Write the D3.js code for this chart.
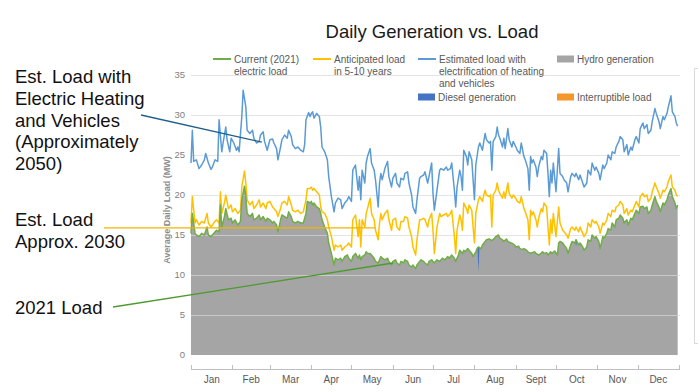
<!DOCTYPE html>
<html><head><meta charset="utf-8">
<script src="https://cdn.jsdelivr.net/npm/d3@7"></script>
<style>
body{margin:0;background:#fff;}
svg{display:block;font-family:Arial,"Liberation Sans",sans-serif;}
</style>
</head><body>
<svg id="chart" width="698" height="392"></svg>
<script>
// ---------- data ----------
const monthLabels = ["Jan","Feb","Mar","Apr","May","Jun","Jul","Aug","Sept","Oct","Nov","Dec"];
const monthStarts = [0,31,59,90,120,151,181,212,243,273,304,334,365];
const yTicks = [0,5,10,15,20,25,30,35];

// Estimated load with electrification of heating and vehicles (day of year, MW)
const days2050 = [0,1,2,4,6,8,10,11,13,15,16,18,20,21,23,24,26,27,29,30,32,34,35,36,38,39,41,42,44,46,47,49,51,52,54,55,57,59,61,62,64,65,67,68,70,72,73,75,76,78,80,82,84,85,86,88,89,90,91,92,94,96,97,98,100,102,103,105,107,108,110,112,113,115,117,118,120,121,123,125,126,127,128,130,131,132,134,135,137,138,140,141,142,143,145,147,148,150,151,153,154,156,157,159,160,162,163,165,166,168,169,171,172,174,175,177,178,180,181,182,184,186,187,189,191,192,194,195,197,198,199,201,202,203,204,206,207,208,210,211,212,213,215,216,218,219,220,221,223,224,225,226,228,229,230,231,233,234,235,237,238,240,241,243,244,246,247,249,250,252,253,254,255,256,258,259,260,262,263,264,266,267,268,269,270,271,273,275,276,278,279,281,282,284,285,287,288,290,291,293,294,296,297,299,300,302,303,305,306,308,309,311,312,314,315,317,318,320,321,323,324,326,327,329,330,332,333,335,336,338,339,341,342,344,345,347,348,350,351,353,354,356,357,359,360,362,363,364];
const load2050 = [24.0,28.1,24.2,24.4,23.3,23.75,24.4,25.2,24.0,23.2,23.5,24.4,24.2,29.4,25.4,26.5,28.5,26.9,25.4,27.1,26.5,25.6,26.0,25.4,29.8,33.1,31.0,28.1,27.7,28.1,27.1,26.5,26.7,27.5,27.9,26.7,25.6,26.9,27.0,26.5,25.8,24.4,26.0,26.9,27.5,27.1,28.1,27.3,26.3,25.8,26.0,25.6,25.4,26.3,29.4,30.3,29.8,30.2,30.4,29.6,30.2,29.8,28.5,26.0,25.4,24.4,22.3,19.8,17.9,19.0,19.6,19.4,18.3,19.0,19.4,19.8,19.2,23.1,23.75,20.6,22.3,19.4,23.1,21.5,24.0,24.8,25.8,24.0,23.1,21.9,18.5,21.5,22.7,21.9,23.3,24.2,22.3,21.0,22.1,22.7,21.5,21.0,22.1,21.9,22.7,22.9,21.5,20.0,18.5,17.7,19.4,22.1,22.3,22.5,22.9,21.5,22.3,24.0,20.2,18.1,20.6,23.1,23.3,23.1,23.5,23.1,23.3,24.0,20.6,18.5,21.0,23.1,22.3,20.6,25.6,24.8,23.75,25.4,24.4,21.9,19.4,23.75,26.0,26.5,25.6,26.7,27.7,26.9,26.5,26.7,23.1,26.7,27.3,28.5,27.5,27.1,26.0,27.1,25.8,28.3,26.9,26.0,26.7,26.0,25.6,25.2,26.5,24.8,24.4,23.3,20.6,24.8,24.0,24.4,23.5,22.3,23.5,24.8,24.4,25.6,25.2,22.7,19.8,23.1,21.5,24.0,20.4,25.8,22.7,22.3,21.9,21.5,20.4,22.3,22.7,22.3,22.7,21.9,22.5,21.5,21.0,21.5,23.1,22.5,24.0,23.1,23.5,22.7,21.9,23.75,23.3,24.0,25.0,24.4,25.4,25.2,26.0,26.7,27.3,26.9,25.4,26.3,25.0,26.0,25.6,26.9,27.3,26.5,28.3,29.0,28.3,28.8,27.7,28.1,29.2,30.8,30.2,29.2,28.3,29.8,29.4,30.2,31.0,32.4,30.4,29.8,29.0,28.6];

// Anticipated load in 5-10 years
const days2030 = [0,1,3,4,6,8,10,12,13,15,17,19,21,22,23,25,26,28,30,31,33,35,37,38,40,41,42,44,46,47,49,51,52,54,56,57,59,61,62,64,65,67,68,70,72,73,75,76,78,80,82,84,86,87,89,90,91,92,94,96,97,98,100,102,103,105,107,108,110,112,113,115,117,118,120,121,123,125,126,127,128,130,131,132,134,135,137,138,140,141,142,143,145,147,148,150,151,153,154,156,157,159,160,162,163,165,166,168,169,171,172,174,175,177,178,180,181,182,184,186,187,189,191,192,194,195,197,198,199,201,202,203,204,206,207,208,210,211,212,213,215,216,218,219,220,221,223,224,225,226,228,229,230,231,233,234,235,237,238,240,241,243,244,246,247,249,250,252,253,254,255,256,258,259,260,262,263,264,266,267,268,269,270,271,273,275,276,278,279,281,282,284,285,287,288,290,291,293,294,296,297,299,300,302,303,305,306,308,309,311,312,314,315,317,318,320,321,323,324,326,327,329,330,332,333,335,336,338,339,341,342,344,345,347,348,350,351,353,354,356,357,359,360,362,363,364];
const load2030 = [16.5,19.8,16.5,16.9,16.25,16.7,16.5,17.7,16.5,16.0,16.5,16.9,16.5,20.4,17.7,19.0,20.0,18.3,18.75,17.9,18.3,17.7,18.1,21.0,23.0,21.5,19.4,18.75,19.2,18.3,18.75,19.4,18.5,19.0,18.3,19.0,19.2,18.5,18.3,17.9,17.3,18.3,19.0,19.2,18.75,19.8,18.75,18.1,17.9,18.1,17.7,17.9,19.4,20.8,20.8,21.0,20.6,20.8,20.4,20.0,18.5,17.9,17.7,16.9,16.0,14.8,13.1,13.75,13.5,13.75,13.1,13.5,13.75,14.0,13.5,16.9,17.5,14.8,16.9,13.5,16.9,16.0,17.7,18.3,19.6,17.7,16.9,15.6,14.4,16.5,17.7,16.9,17.7,18.1,16.9,15.6,16.9,17.1,16.0,15.6,16.7,16.7,17.3,17.1,16.0,14.8,13.5,12.5,14.4,16.9,16.9,17.1,16.9,16.0,16.9,17.7,15.6,12.7,16.0,17.7,17.3,17.5,17.7,17.3,17.7,18.1,14.8,12.7,15.6,17.5,16.9,15.6,19.0,18.3,17.7,18.75,18.1,16.0,14.0,17.7,19.4,19.8,19.2,20.0,20.6,20.0,19.8,20.0,16.0,20.0,20.6,21.5,20.6,20.2,19.6,20.4,19.6,21.5,20.2,19.6,20.0,19.6,19.2,19.0,19.8,18.3,17.9,16.9,14.4,18.1,17.5,17.9,16.9,16.0,17.1,18.3,17.9,19.0,18.5,16.0,13.75,16.9,15.2,17.7,14.8,18.5,16.5,15.6,15.4,15.0,14.6,15.8,16.0,15.6,16.0,15.4,16.0,15.2,14.8,15.4,16.5,16.0,16.9,16.5,16.7,16.0,15.2,16.5,16.25,16.9,17.7,17.3,18.1,17.9,18.5,18.75,19.2,18.75,17.7,18.3,17.5,18.1,17.9,18.75,19.2,18.5,19.8,20.2,19.8,20.0,19.2,19.6,20.4,21.5,21.0,20.2,19.6,20.6,20.4,21.0,21.7,22.5,21.0,20.6,20.0,19.8];

// Current (2021) electric load
const days2021 = [0,1,3,4,6,8,10,12,13,15,17,19,21,22,23,25,26,28,30,31,33,35,37,38,40,41,42,44,46,47,49,51,52,54,56,57,59,61,62,64,65,67,68,70,72,73,75,76,78,80,82,84,86,87,89,90,91,92,94,96,97,98,100,102,103,105,107,108,110,112,113,115,117,118,120,121,123,125,126,127,128,130,131,132,134,135,137,138,140,141,142,143,145,147,148,150,151,153,154,156,157,159,160,162,163,165,166,168,169,171,172,174,175,177,178,180,181,182,184,186,188,190,192,193,195,197,198,200,201,203,204,205,207,208,210,211,213,214,215,217,218,220,221,223,225,227,228,230,231,233,234,236,237,239,240,242,243,245,246,248,249,251,252,254,255,257,258,260,261,263,264,266,267,269,270,272,274,275,276,278,279,281,282,284,285,287,288,290,291,293,294,296,297,299,300,302,303,305,306,308,309,311,312,314,315,317,318,320,321,323,324,326,327,329,330,332,333,335,336,338,339,341,342,344,345,347,348,350,351,353,354,356,357,359,360,362,363,364];
const load2021 = [15.2,17.7,15.2,15.0,14.8,15.2,15.0,16.0,15.0,14.8,15.2,15.6,15.4,18.75,16.0,17.3,18.3,16.9,17.1,16.5,16.9,16.25,16.7,19.4,21.1,19.8,17.7,17.3,17.7,16.9,17.1,17.5,16.9,17.3,16.7,17.1,16.9,16.5,16.7,16.25,15.4,16.9,17.5,17.3,17.1,17.9,17.3,16.7,16.5,16.7,16.5,16.5,17.7,19.2,19.0,19.2,18.75,19.0,18.5,18.3,17.7,16.9,16.0,15.2,14.0,12.7,11.25,12.1,11.9,12.1,11.7,12.3,12.5,12.1,11.7,12.3,12.7,12.1,12.5,11.9,12.3,12.5,12.9,12.7,12.7,12.5,12.1,11.7,11.5,11.9,12.3,12.1,11.9,12.1,11.7,11.25,11.7,11.9,11.5,11.25,11.7,11.5,11.9,11.7,11.25,11.0,11.25,10.8,11.25,11.7,11.9,11.7,11.5,11.25,11.7,11.9,11.7,11.5,11.9,11.7,12.1,11.9,12.3,12.1,12.5,12.1,11.7,12.5,13.1,12.7,13.1,12.9,13.3,13.1,12.7,12.3,12.9,13.3,13.5,13.3,13.75,14.2,14.4,14.5,14.3,14.6,14.8,15.0,14.6,14.4,14.2,14.5,14.2,14.0,14.0,13.75,13.5,13.6,13.3,13.2,13.3,13.1,12.9,12.7,12.8,12.9,12.7,12.5,12.6,12.9,12.7,12.8,12.5,12.9,12.7,13.0,12.5,14.0,14.2,14.0,13.75,13.3,12.7,13.75,14.2,14.0,14.4,13.75,14.0,13.5,13.1,13.5,14.4,14.2,15.0,14.6,14.8,14.2,13.3,14.8,14.6,15.2,15.8,15.6,16.5,16.0,16.9,17.1,17.5,17.1,16.5,16.9,16.25,17.1,16.9,17.7,18.1,17.7,18.5,18.6,18.3,18.5,17.7,18.1,18.75,19.8,19.2,18.5,17.9,19.0,18.75,19.4,20.0,20.8,19.8,19.0,18.3,18.75];

// Diesel generation events (day, load at that day, hydro output that day)
const dieselDays = [215, 288];
const dieselLoad = [13.5, 14.4];
const dieselHydro = [10.4, 13.6];

// ---------- drawing ----------
const svg = d3.select("#chart");
const x = d3.scaleLinear().domain([0,365]).range([191,679]);
const y = d3.scaleLinear().domain([0,35]).range([355,75]);

const C = {green:"#70ad47", yellow:"#ffc000", blue:"#5b9bd5", gray:"#a5a5a5", diesel:"#4472c4", orange:"#f5962a"};

// title
svg.append("text").attr("x",432).attr("y",38).attr("text-anchor","middle")
  .attr("font-size",18.5).attr("fill","#1a1a1a").text("Daily Generation vs. Load");

const s2021 = days2021.map((d,i)=>({d, v:load2021[i]}));
const s2030 = days2030.map((d,i)=>({d, v:load2030[i]}));
const s2050 = days2050.map((d,i)=>({d, v:load2050[i]}));

// hydro area
svg.append("path").datum(s2021)
  .attr("d", d3.area().x(p=>x(p.d)).y0(y(0)).y1(p=>y(p.v)))
  .attr("fill", C.gray);

// diesel wedges
dieselDays.forEach((d,i)=>{
  const pts = [{d:d-0.8, lo:dieselLoad[i], hi:dieselLoad[i]},
               {d:d, lo:dieselHydro[i], hi:dieselLoad[i]},
               {d:d+0.8, lo:dieselLoad[i], hi:dieselLoad[i]}];
  svg.append("path").datum(pts)
    .attr("d", d3.area().x(p=>x(p.d)).y0(p=>y(p.lo)).y1(p=>y(p.hi)))
    .attr("fill", C.diesel);
});

// gridlines
svg.append("g").selectAll("line").data(yTicks.filter(t=>t>0)).join("line")
  .attr("x1",191).attr("x2",680).attr("y1",t=>y(t)+0.5).attr("y2",t=>y(t)+0.5)
  .attr("stroke","#d9d9d9").attr("stroke-opacity",0.7).attr("stroke-width",1);

// y labels
svg.append("g").selectAll("text").data(yTicks).join("text")
  .attr("x",185).attr("y",t=>y(t)).attr("dy","0.35em").attr("text-anchor","end")
  .attr("font-size",9.5).attr("fill","#7f7f7f").text(t=>t);

svg.append("text").attr("transform","translate(170,210) rotate(-90)")
  .attr("text-anchor","middle").attr("font-size",9).attr("font-weight","bold")
  .attr("fill","#8c8c8c").text("Average Daily Load (MW)");

// x axis
const xAxis = svg.append("g");
xAxis.append("line").attr("x1",191).attr("x2",680).attr("y1",369.5).attr("y2",369.5)
  .attr("stroke","#bfbfbf");
xAxis.selectAll("line.t").data(monthStarts).join("line").attr("class","t")
  .attr("x1",d=>Math.round(x(d))+0.5).attr("x2",d=>Math.round(x(d))+0.5)
  .attr("y1",365).attr("y2",370).attr("stroke","#bfbfbf");
xAxis.selectAll("text").data(monthLabels).join("text")
  .attr("x",(m,i)=>x((monthStarts[i]+monthStarts[i+1])/2))
  .attr("y",379).attr("dy","0.35em").attr("text-anchor","middle")
  .attr("font-size",10).attr("fill","#595959").text(m=>m);

// lines
const line = d3.line().x(p=>x(p.d)).y(p=>y(p.v));
svg.append("path").datum(s2050).attr("d",line).attr("fill","none")
  .attr("stroke",C.blue).attr("stroke-width",1.5).attr("stroke-linejoin","round");
svg.append("path").datum(s2030).attr("d",line).attr("fill","none")
  .attr("stroke",C.yellow).attr("stroke-width",1.5).attr("stroke-linejoin","round");
svg.append("path").datum(s2021).attr("d",line).attr("fill","none")
  .attr("stroke",C.green).attr("stroke-width",1.5).attr("stroke-linejoin","round");

// legend
const lg = svg.append("g").attr("font-size",10).attr("fill","#595959");
function lineItem(x0, y0, color, lines){
  lg.append("line").attr("x1",x0).attr("x2",x0+18).attr("y1",y0).attr("y2",y0)
    .attr("stroke",color).attr("stroke-width",2);
  lines.forEach((t,i)=>lg.append("text").attr("x",x0+21).attr("y",y0+i*12).attr("dy","0.35em").text(t));
}
function boxItem(x0, y0, color, label){
  lg.append("rect").attr("x",x0).attr("y",y0-3.5).attr("width",17).attr("height",7).attr("fill",color);
  lg.append("text").attr("x",x0+20).attr("y",y0).attr("dy","0.35em").text(label);
}
lineItem(213, 59, C.green, ["Current (2021)","electric load"]);
lineItem(313, 59, C.yellow, ["Anticipated load","in 5-10 years"]);
lineItem(418, 59, C.blue, ["Estimated load with","electrification of heating","and vehicles"]);
boxItem(557, 59, C.gray, "Hydro generation");
boxItem(418, 97, C.diesel, "Diesel generation");
boxItem(557, 97, C.orange, "Interruptible load");

// right frame edge
svg.append("path").attr("d","M698,68.5H694.5V343.5H698").attr("fill","none").attr("stroke","#d9d9d9");

// annotations (pointer endpoints in data units)
const annoBlue = [[-37.4,30.0],[53,26.6]];
const annoYellow = [[-65.1,15.9],[137.6,15.9]];
const annoGreen = [[-58.3,6.0],[151.1,11.5]];
[[annoBlue,"#1f5f8b"],[annoYellow,"#f0b400"],[annoGreen,"#4e9a2f"]].forEach(([a,c])=>{
  svg.append("line").attr("x1",x(a[0][0])).attr("y1",y(a[0][1]))
    .attr("x2",x(a[1][0])).attr("y2",y(a[1][1])).attr("stroke",c).attr("stroke-width",1.3);
});
const at = svg.append("g").attr("font-size",18.5).attr("fill","#111");
[["Est. Load with",83],["Electric Heating",105],["and Vehicles",127],["(Approximately",148],["2050)",170],
 ["Est. Load",226],["Approx. 2030",248],["2021 Load",314]].forEach(([t,yy])=>{
  at.append("text").attr("x",15).attr("y",yy).text(t);
});
</script>
</body></html>
